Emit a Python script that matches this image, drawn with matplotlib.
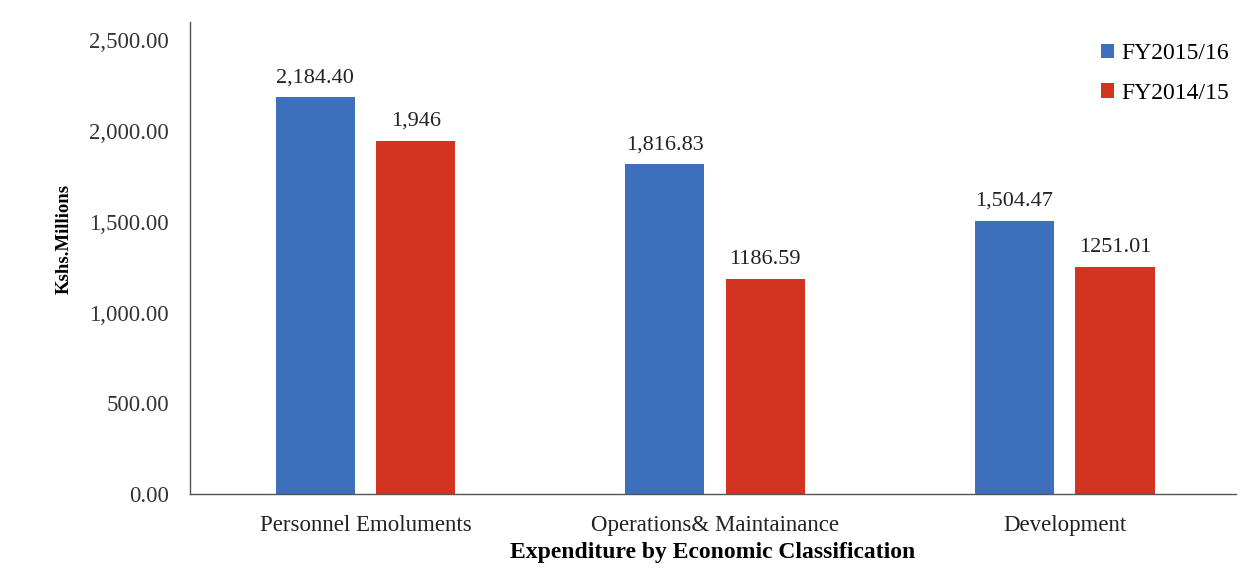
import numpy as np
import matplotlib
matplotlib.use("Agg")
import matplotlib.pyplot as plt

categories = ["Personnel Emoluments", "Operations& Maintainance", "Development"]
fy2015_16 = [2184.40, 1816.83, 1504.47]
fy2014_15 = [1946, 1186.59, 1251.01]
labels_2015_16 = ["2,184.40", "1,816.83", "1,504.47"]
labels_2014_15 = ["1,946", "1186.59", "1251.01"]
yticks = [0, 500, 1000, 1500, 2000, 2500]

BLUE = "#3d6fbc"
RED = "#d23421"
SERIF = ["Liberation Serif", "DejaVu Serif"]

plt.rcParams["font.family"] = SERIF

fig = plt.figure(figsize=(12.56, 5.87), dpi=100)
ax = fig.add_axes([0.151, 0.158, 0.833, 0.805])

x = np.arange(len(categories))
w = 0.227
off = 0.1437

b1 = ax.bar(x - off, fy2015_16, w, color=BLUE, label="FY2015/16")
b2 = ax.bar(x + off, fy2014_15, w, color=RED, label="FY2014/15")

for bars, labs in [(b1, labels_2015_16), (b2, labels_2014_15)]:
    for r, t in zip(bars, labs):
        ax.text(r.get_x() + r.get_width() / 2, r.get_height() + 55, t,
                ha="center", va="bottom", fontsize=16, color="#222222")

ax.set_xlim(-0.503, 2.49)
ax.set_ylim(0, 2600)
ax.set_yticks(yticks)
ax.set_yticklabels([f"{v:,.2f}" for v in yticks], fontsize=16.5, color="#333333")
ax.set_xticks(x)
ax.set_xticklabels(categories, fontsize=16.5, color="#222222")
ax.tick_params(length=0)
ax.tick_params(axis="x", pad=15)
ax.tick_params(axis="y", pad=15)

for s in ["top", "right"]:
    ax.spines[s].set_visible(False)
for s in ["left", "bottom"]:
    ax.spines[s].set_color("#555555")
    ax.spines[s].set_linewidth(1.0)

ax.set_ylabel("Kshs.Millions", fontsize=13.5, fontweight="bold")
ax.yaxis.set_label_coords(-0.112, 0.54)
ax.set_xlabel("Expenditure by Economic Classification", fontsize=17,
              fontweight="bold", labelpad=4)

ax.legend(loc="upper right", bbox_to_anchor=(1.014, 1.0), frameon=False,
          fontsize=17, handlelength=0.55, handleheight=0.55, handletextpad=0.3,
          labelspacing=0.8)

fig.savefig("out.png", dpi=100, facecolor="white")
